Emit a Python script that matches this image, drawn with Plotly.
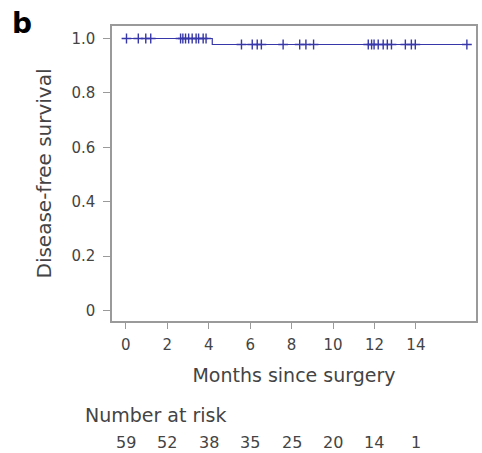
import plotly.graph_objects as go

# Kaplan-Meier step data
step_times = [0, 4.17, 16.46]
step_surv = [1.0, 0.978, 0.978]

# Censor marks (months)
censor_times = [0.03, 0.6, 0.96, 1.2, 2.64, 2.75, 2.88, 3.03, 3.2, 3.39, 3.51, 3.73, 3.87,
                5.58, 6.1, 6.34, 6.54, 7.59, 8.39, 8.69, 9.06,
                11.7, 11.86, 11.98, 12.18, 12.42, 12.62, 12.82, 13.49, 13.78, 13.97, 16.46]

def surv_at(t):
    s = step_surv[0]
    for tt, ss in zip(step_times, step_surv):
        if t >= tt:
            s = ss
    return s

censor_surv = [surv_at(t) for t in censor_times]

x_ticks = [0, 2, 4, 6, 8, 10, 12, 14]
y_ticks = [0, 0.2, 0.4, 0.6, 0.8, 1.0]
y_ticktext = ["0", "0.2", "0.4", "0.6", "0.8", "1.0"]
at_risk = [59, 52, 38, 35, 25, 20, 14, 1]

line_color = "rgb(55,55,170)"
text_color = "#444444"
axis_color = "#9a9a9a"
font_family = "DejaVu Sans, sans-serif"

fig = go.Figure()
fig.add_trace(go.Scatter(x=step_times, y=step_surv, mode="lines",
                         line=dict(shape="hv", color=line_color, width=1.2),
                         showlegend=False, hoverinfo="skip"))
fig.add_trace(go.Scatter(x=censor_times, y=censor_surv, mode="markers",
                         marker=dict(symbol="cross-thin", size=7,
                                     line=dict(color=line_color, width=1.4)),
                         showlegend=False))

fig.update_layout(
    width=482, height=453,
    margin=dict(l=112, r=4, t=26, b=132),
    plot_bgcolor="white", paper_bgcolor="white",
    font=dict(family=font_family, size=15, color=text_color),
    xaxis=dict(range=[-0.67, 16.9], tickvals=x_ticks, ticks="outside", ticklen=6,
               tickcolor=axis_color, showgrid=False, zeroline=False,
               showline=True, linecolor=axis_color, linewidth=1.5, mirror=True,
               ticklabelstandoff=3,
               tickfont=dict(size=15, color=text_color),
               title=dict(text="Months since surgery", standoff=16,
                          font=dict(size=19, color=text_color))),
    yaxis=dict(range=[-0.039, 1.046], tickvals=y_ticks, ticktext=y_ticktext,
               ticks="outside", ticklen=7, tickcolor=axis_color, showgrid=False,
               zeroline=False, showline=True, linecolor=axis_color, linewidth=1.5,
               mirror=True, ticklabelstandoff=5,
               tickfont=dict(size=15, color=text_color),
               title=dict(text="Disease-free survival", standoff=14,
                          font=dict(size=20, color=text_color))),
)

fig.add_annotation(text="<b>b</b>", x=-0.281, y=1.01, xref="paper", yref="paper",
                   xanchor="left", yanchor="middle", showarrow=False,
                   font=dict(size=28, color="black", family=font_family))
fig.add_annotation(text="Number at risk", x=-0.079, y=-0.318, xref="paper", yref="paper",
                   xanchor="left", yanchor="middle", showarrow=False,
                   font=dict(size=19, color=text_color))
for t, n in zip(x_ticks, at_risk):
    fig.add_annotation(text=str(n), x=t, y=-0.413, xref="x", yref="paper",
                       xanchor="center", yanchor="middle", showarrow=False,
                       font=dict(size=16, color=text_color))

fig.write_html("out.html")
